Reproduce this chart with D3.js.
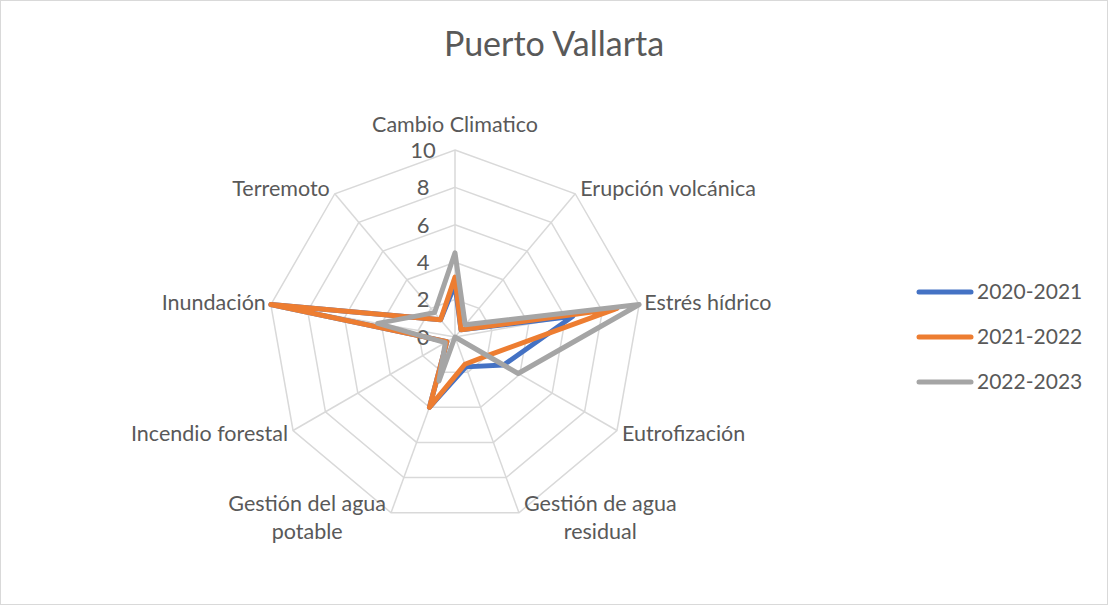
<!DOCTYPE html>
<html>
<head>
<meta charset="utf-8">
<script src="https://cdn.jsdelivr.net/npm/d3@7"></script>
<style>
  body { margin: 0; background: #fff; }
  text { font-family: Lato, "Noto Sans", sans-serif; fill: #595959; }
</style>
</head>
<body>
<div id="vis"></div>
<script>
// axis names, clockwise from the top
var categories = ["Cambio Climatico", "Erupción volcánica", "Estrés hídrico", "Eutrofización",
                  "Gestión de agua residual", "Gestión del agua potable", "Incendio forestal",
                  "Inundación", "Terremoto"];

// label lines (Excel wraps the two long ones)
var labelLines = [["Cambio Climatico"], ["Erupción volcánica"], ["Estrés hídrico"], ["Eutrofización"],
                  ["Gestión de agua", "residual"], ["Gestión del agua", "potable"], ["Incendio forestal"],
                  ["Inundación"], ["Terremoto"]];

var seriesNames = ["2020-2021", "2021-2022", "2022-2023"];
var values2020 = [2.8, 0.5, 6.4, 3.0, 1.7, 4.0, 0.5, 10, 1.2];
var values2021 = [3.2, 0.5, 8.8, 2.0, 1.55, 4.0, 0.5, 10, 1.2];
var values2022 = [4.5, 0.85, 10, 3.9, 0, 2.5, 0.6, 4.2, 1.7];
var tickValues = [0, 2, 4, 6, 8, 10];
var colors = ["#4472C4", "#ED7D31", "#A5A5A5"];

var width = 1108,
    height = 605,
    cx = 455,
    cy = 337,
    radius = 187;

var svg = d3.select("#vis").append("svg")
    .attr("width", width)
    .attr("height", height);

// chart border
svg.append("rect")
    .attr("x", 0.5).attr("y", 0.5)
    .attr("width", width - 1).attr("height", height - 1)
    .attr("fill", "#fff")
    .attr("stroke", "#d9d9d9");

svg.append("text")
    .attr("x", width / 2)
    .attr("y", 56)
    .attr("text-anchor", "middle")
    .style("font-size", "34px")
    .text("Puerto Vallarta");

var r = d3.scaleLinear().domain([0, 10]).range([0, radius]);

// evenly spaced spokes, first one straight up
var angle = function(c) { return categories.indexOf(c) * 2 * Math.PI / categories.length; };

var g = svg.append("g").attr("transform", "translate(" + cx + "," + cy + ")");

function point(c, v) {
  var a = angle(c);
  return [r(v) * Math.sin(a), -r(v) * Math.cos(a)];
}

// grid rings
g.selectAll(".ring")
    .data(tickValues.slice(1))
  .enter().append("polygon")
    .attr("class", "ring")
    .attr("points", function(t) {
      return categories.map(function(c) { return point(c, t).join(","); }).join(" ");
    })
    .attr("fill", "none")
    .attr("stroke", "#d9d9d9")
    .attr("stroke-width", 1.5);

// spokes
g.selectAll(".spoke")
    .data(categories)
  .enter().append("line")
    .attr("class", "spoke")
    .attr("x1", 0).attr("y1", 0)
    .attr("x2", function(c) { return point(c, 10)[0]; })
    .attr("y2", function(c) { return point(c, 10)[1]; })
    .attr("stroke", "#d9d9d9")
    .attr("stroke-width", 1.5);

// tick labels
g.selectAll(".tick")
    .data(tickValues)
  .enter().append("text")
    .attr("class", "tick")
    .attr("x", -32)
    .attr("y", function(t) { return -r(t); })
    .attr("dy", "0.35em")
    .attr("text-anchor", "middle")
    .style("font-size", "22px")
    .text(function(t) { return t; });

// series
var line = d3.lineRadial()
    .angle(function(d) { return angle(d.c); })
    .radius(function(d) { return r(d.v); })
    .curve(d3.curveLinearClosed);

var allSeries = [values2020, values2021, values2022];

g.selectAll(".series")
    .data(allSeries)
  .enter().append("path")
    .attr("class", "series")
    .attr("d", function(vals) {
      return line(vals.map(function(v, i) { return {c: categories[i], v: v}; }));
    })
    .attr("fill", "none")
    .attr("stroke", function(d, i) { return colors[i]; })
    .attr("stroke-width", 5)
    .attr("stroke-linejoin", "round");

// category labels, placed just outside the outer ring
var labels = g.selectAll(".cat")
    .data(categories)
  .enter().append("text")
    .attr("class", "cat")
    .attr("text-anchor", "middle")
    .style("font-size", "21.5px");

labels.each(function(c, i) {
  var t = d3.select(this);
  var lines = labelLines[i];
  lines.forEach(function(s, k) {
    t.append("tspan").attr("x", 0).attr("dy", k ? 28 : 0).text(s);
  });
  var box = this.getBBox();
  var a = angle(c),
      p = point(c, 10),
      s = Math.sin(a),
      tx, ty;
  if (Math.abs(s) < 0.1) {
    tx = p[0];
  } else if (s > 0) {
    tx = p[0] + 5 - box.x;
  } else {
    tx = p[0] - 5 - (box.x + box.width);
  }
  if (Math.abs(s) < 0.1) {
    ty = p[1] - 13 - (box.y + box.height);
  } else {
    ty = p[1] - 6 * Math.cos(a) - 1 - (box.y + box.height / 2);
  }
  t.attr("transform", "translate(" + tx + "," + ty + ")");
});

// legend
var legend = svg.append("g")
    .attr("transform", "translate(917,292)");

var item = legend.selectAll(".item")
    .data(seriesNames)
  .enter().append("g")
    .attr("class", "item")
    .attr("transform", function(d, i) { return "translate(0," + i * 45 + ")"; });

item.append("line")
    .attr("x1", 2).attr("x2", 54)
    .attr("stroke", function(d, i) { return colors[i]; })
    .attr("stroke-width", 5)
    .attr("stroke-linecap", "round");

item.append("text")
    .attr("x", 60)
    .attr("dy", "0.35em")
    .style("font-size", "21px")
    .text(function(d) { return d; });
</script>
</body>
</html>
